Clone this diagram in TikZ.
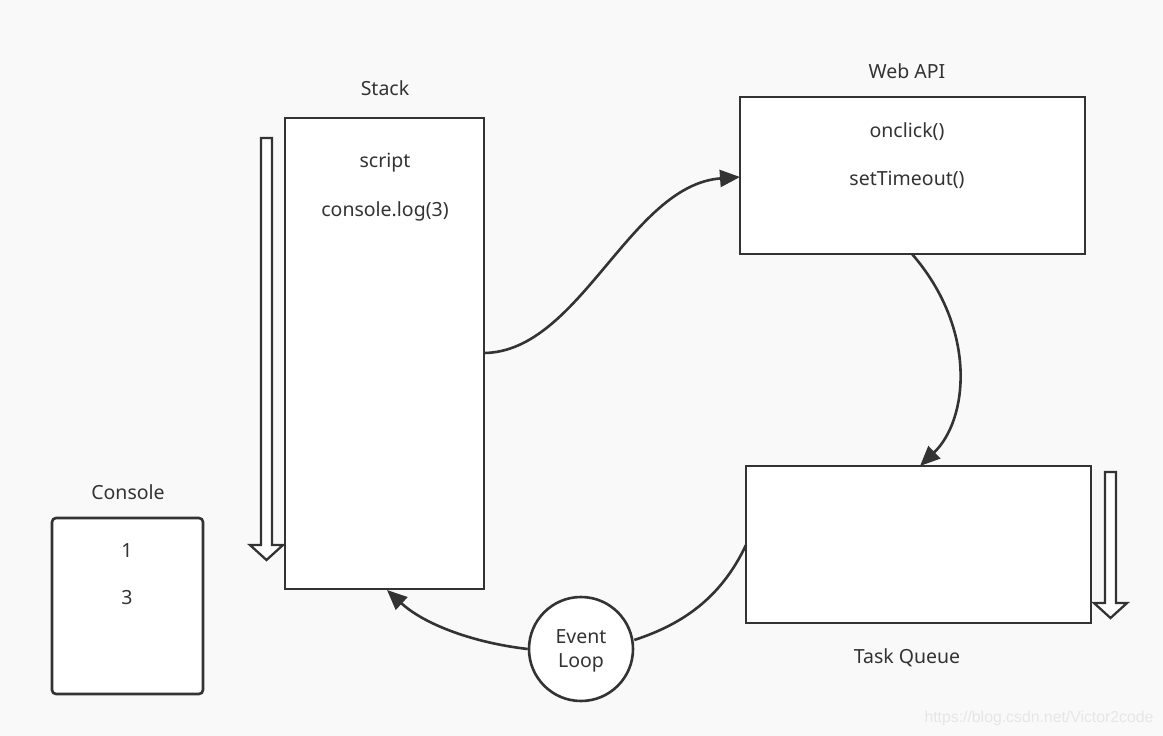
\documentclass[tikz,border=0pt]{standalone}
\usepackage{fontspec}
\setmainfont{Noto Sans}
\newfontfamily\wmfont{Liberation Sans}
\usetikzlibrary{arrows.meta}
\definecolor{ink}{HTML}{333333}
\definecolor{bg}{HTML}{F9F9F9}
\definecolor{wm}{HTML}{E6E6E6}
\begin{document}
\begin{tikzpicture}[x=1pt,y=-1pt,
  every node/.style={font=\fontsize{19.5}{24}\selectfont, text=ink},
  box/.style={draw=ink, line width=2.6pt, fill=white},
  conn/.style={draw=ink, line width=2.6pt, -{Triangle[length=20pt,width=17pt]}},
  plain/.style={draw=ink, line width=2.6pt},
  hollow/.style={draw=ink, line width=2.3pt, fill=white, line join=miter}]
\fill[bg] (0,0) rectangle (1163,736);
\useasboundingbox (0,0) rectangle (1163,736);
% boxes
\draw[box] (285,118) rectangle (484,589);
\node (stack) at (384.5,353.5) [minimum width=199pt, minimum height=471pt, inner sep=0pt] {};
\draw[box] (740,97) rectangle (1085,254);
\node (webapi) at (912.5,175.5) [minimum width=345pt, minimum height=157pt, inner sep=0pt] {};
\draw[box] (746,466) rectangle (1091,623);
\node (queue) at (918.5,544.5) [minimum width=345pt, minimum height=157pt, inner sep=0pt] {};
\draw[box, rounded corners=4pt] (52,518) rectangle (203,694);
\node (console) at (127.5,606) [minimum width=151pt, minimum height=176pt, inner sep=0pt] {};
\node[draw=ink, line width=2.6pt, fill=white, circle, minimum size=104pt, inner sep=0pt, align=center] (loop) at (581,649) {};
\node (looptext) at (581,651) [align=center] {Event\\Loop};
% labels
\node (lstack) at (385,88) {Stack};
\node (lweb) at (907,71) {Web API};
\node (lqueue) at (907,658) {Task Queue};
\node (lcons) at (128,492) {Console};
\node (t1) at (385,163) {script};
\node (t2) at (385,211) {console.log(3)};
\node (t3) at (907,132) {onclick()};
\node (t4) at (907,180) {setTimeout()};
\node (c1) at (127,551) {1};
\node (c2) at (127,598) {3};
% hollow arrows
\draw[hollow] (261,138) -- (272,138) -- (272,545) -- (283,545) -- (266.5,560) -- (250,545) -- (261,545) -- cycle;
\draw[hollow] (1105,472) -- (1116,472) -- (1116,603) -- (1127,603) -- (1110.5,618) -- (1094,603) -- (1105,603) -- cycle;
% connectors
\coordinate (a1) at (484,353);
\coordinate (a2) at (740,177);
\draw[conn] (a1) .. controls (580,352) and (630,185) .. (a2);
\coordinate (b1) at (912,254);
\coordinate (b2) at (920,466);
\draw[conn] (b1) .. controls (978,330) and (968,420) .. (b2);
\coordinate (q1) at (746,545);
\draw[plain] (q1) .. controls (720,600) and (680,625) .. (loop.east |- 0,640);
\coordinate (s1) at (387,590);
\draw[conn] (loop.west |- 0,649) .. controls (475,643) and (425,625) .. (s1);
% watermark
\node[text=wm, font=\fontsize{15.8}{19}\selectfont\wmfont] (wmark) at (1039,718) {https://blog.csdn.net/Victor2code};
\end{tikzpicture}
\end{document}
